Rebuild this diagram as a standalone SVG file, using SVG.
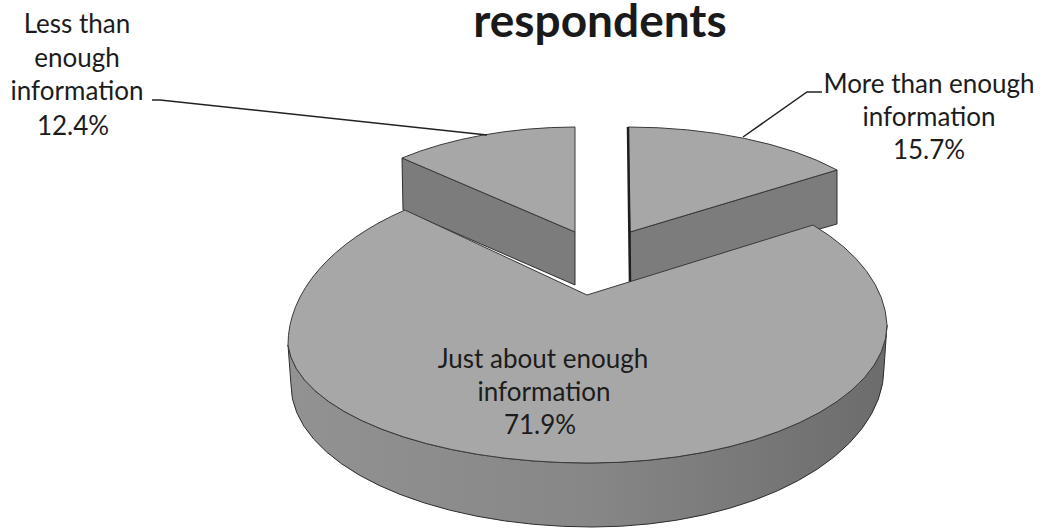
<svg xmlns="http://www.w3.org/2000/svg" width="1041" height="528" viewBox="0 0 1041 528">
  <style>
    .lbl { font-family: Lato, "Liberation Sans", sans-serif; font-size: 26px; fill: #1c1c1c; text-anchor: middle; }
    .title { font-family: Lato, "Liberation Sans", sans-serif; font-size: 46px; font-weight: bold; fill: #1a1a1a; text-anchor: middle; }
    .top { fill: #a7a7a7; stroke: #3a3a3a; stroke-width: 1; stroke-linejoin: round; }
    .side { fill: #7c7c7c; stroke: #2e2e2e; stroke-width: 1; stroke-linejoin: round; }
    .leader { fill: none; stroke: #222; stroke-width: 1.5; }
  </style>
  <defs>
    <linearGradient id="rim" x1="288" y1="0" x2="887" y2="0" gradientUnits="userSpaceOnUse">
      <stop offset="0" stop-color="#929292"/>
      <stop offset="0.5" stop-color="#878787"/>
      <stop offset="1" stop-color="#6c6c6c"/>
    </linearGradient>
  </defs>
  <rect width="1041" height="528" fill="#ffffff"/>

  <text class="title" x="600" y="37">respondents</text>

  <g id="slice-less">
    <path class="side" d="M 402 158 L 575 232 L 575 285 L 403 210 Z"/>
    <path class="top" d="M 575 232 L 575 127 A 265 125 0 0 0 402 158 Z"/>
  </g>

  <g id="slice-more">
    <path class="side" d="M 630 232 L 837 170 L 837 224 L 630 283 Z"/>
    <path class="top" d="M 630 232 L 628 127 A 265 110 0 0 1 837 170 Z"/>
    <path d="M 628 127 L 630 283" stroke="#1e1e1e" stroke-width="2.5" fill="none"/>
  </g>

  <g id="slice-just">
    <path d="M 288 345 A 300 124 0 0 0 590 463 A 298 138 0 0 0 887 325 L 884 368 A 292 159 0 0 1 592 527 A 301 142 0 0 1 291 385 Z" fill="url(#rim)" stroke="#2e2e2e" stroke-width="1"/>
    <path class="top" d="M 587 295 L 405 210 A 300 170 0 0 0 288 345 A 300 124 0 0 0 590 463 A 298 138 0 0 0 887 325 A 290 155 0 0 0 813 225 Z" fill="#a3a3a3"/>
  </g>

  <g id="connectors">
    <polyline class="leader" points="152,100 160,100 487,135"/>
    <polyline class="leader" points="743,137 807,92 822,92"/>
  </g>

  <g id="label-less">
    <text class="lbl" x="77" y="33">Less than</text>
    <text class="lbl" x="77" y="67">enough</text>
    <text class="lbl" x="77" y="100">information</text>
    <text class="lbl" x="73" y="135">12.4%</text>
  </g>
  <g id="label-more">
    <text class="lbl" x="929" y="93">More than enough</text>
    <text class="lbl" x="929" y="126">information</text>
    <text class="lbl" x="929" y="159">15.7%</text>
  </g>
  <g id="label-just">
    <text class="lbl" x="543" y="368">Just about enough</text>
    <text class="lbl" x="544" y="401">information</text>
    <text class="lbl" x="540" y="434">71.9%</text>
  </g>
</svg>
